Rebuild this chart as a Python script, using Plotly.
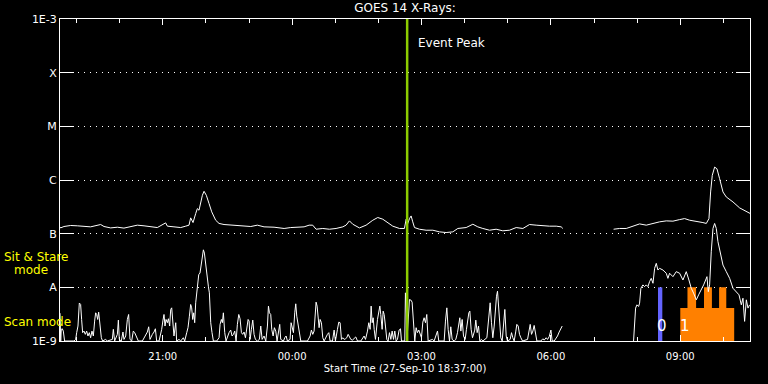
import math
import pandas as pd
import plotly.graph_objects as go

START = pd.Timestamp("2010-09-27 18:37:00")
END = START + pd.Timedelta(hours=16)

# ---- Data (minutes after 18:37, flux) ----
# Short channel (0.5-4 A), flux in units of 1e-9 W/m^2
short_seg1 = [
    (0, 3.3), (1, 1.0), (1.8, 1.65), (3.2, 1.69), (4.6, 1.53), (6.4, 1.0), (19.4, 1.0), (21.8, 1.07),
    (23.2, 1.43), (25, 1.9), (26.9, 5.1), (28.7, 4.8), (30.1, 2.5), (31.5, 1.43), (33.4, 1.53),
    (35.2, 1.33), (37.1, 1.53), (38.9, 1.24), (40.8, 1.43), (42.6, 1.15), (44.5, 1.53), (46.4, 1.24),
    (48.2, 2.35), (49.6, 3.35), (51, 3.12), (52.4, 2.52), (53.8, 3.45), (55.6, 2.04), (57.5, 1.15),
    (59.3, 1.0), (63.5, 1.07), (65.8, 1.0), (72.8, 1.07), (74.2, 1.65), (76, 1.0), (79.8, 1.33),
    (81.2, 2.45), (82.5, 1.07), (85.3, 1.0), (87.6, 1.47), (89, 1.07), (91.4, 1.24), (93.7, 2.52),
    (95.5, 3.12), (97.4, 1.07), (99.7, 1.0), (102, 1.53), (103.9, 1.43), (106.7, 1.15), (109, 1.0),
    (114.6, 1.0), (121.5, 1.47), (123.4, 1.84), (125.2, 1.07), (128.5, 1.33), (130.8, 1.47),
    (132.7, 1.69), (134.5, 1.0), (137.8, 1.0), (141.5, 1.65), (143.3, 2.45), (144.7, 3.12),
    (146.1, 1.9), (147.5, 2.52), (149.4, 2.19), (150.8, 2.6), (152.6, 1.9), (154, 3.87), (155.4, 4.15),
    (157.2, 1.65), (158.6, 1.24), (161, 2.19), (162.3, 1.0), (165.6, 1.07), (167.9, 1.0), (171.6, 1.15),
    (173.5, 1.0), (176.3, 1.43), (178.1, 1.77), (180, 2.9), (181.8, 4.79), (183.2, 4.15), (184.6, 2.52),
    (186, 3.35), (187.4, 2.19), (188.8, 5.15), (190.2, 7.9), (191.6, 10.5), (193, 17.2), (194.8, 18.5),
    (196.7, 28.4), (198.1, 40.5), (199.5, 50), (200.9, 43.5), (202.3, 28.4), (203.6, 21.3), (205, 16.1),
    (206.4, 10.5), (207.8, 7.9), (209.7, 2.19), (211.5, 1.43), (213.4, 1.0), (218, 1.0), (221.3, 1.15),
    (222.7, 2.04), (224.5, 2.52), (225.9, 2.19), (227.3, 3.35), (229.2, 1.43), (231, 1.0),
    (235.2, 1.43), (237.5, 1.6), (239.4, 1.24), (241.3, 1.33), (243.1, 1.53), (245, 1.0), (246.8, 2.04),
    (248.7, 3.12), (250.5, 2.6), (252.4, 1.43), (254.2, 1.33), (256.1, 1.47), (258, 1.15), (259.8, 1.65),
    (261.7, 2.52), (263.1, 2.35), (264.5, 1.07), (266.3, 1.65), (268.2, 2.45), (270, 1.33), (271.9, 1.07),
    (274.7, 1.0), (277.4, 1.07), (279.3, 1.9), (281.2, 1.07), (283.9, 1.24), (286.3, 1.0), (288.6, 1.9),
    (290, 4.47), (291.4, 3.35), (293.2, 3.12), (294.6, 1.65), (296.5, 1.24), (298.3, 1.77), (300.2, 1.53),
    (302, 1.0), (303.9, 1.43), (305.7, 2.04), (307.1, 1.07), (310.9, 1.0), (312.7, 1.15), (314.6, 1.24),
    (316.4, 1.0), (320.1, 1.07), (321.5, 2.19), (323.4, 1.77), (324.8, 1.43), (326.6, 3.35), (328, 4.93),
    (329.4, 2.9), (331.3, 1.9), (333.1, 1.24), (335, 1.0), (344.3, 1.0), (348, 1.24), (349.8, 1.6),
    (351.7, 1.33), (353.5, 1.53), (354.9, 2.71), (356.3, 5.3), (357.7, 4.47), (359.1, 2.9), (360.5, 1.77),
    (361.9, 2.52), (363.7, 2.19), (365.6, 1.15), (367.5, 1.0), (372.1, 1.33), (374, 1.43), (375.8, 1.0),
    (379.1, 1.0), (381.4, 1.6), (383.2, 1.0), (386, 1.65), (387.9, 2.25), (389.7, 2.19), (391.6, 1.07),
    (393.4, 1.15), (395.3, 1.07), (397.2, 1.1), (399, 1.15), (400.9, 1.33), (402.7, 1.15), (404.6, 1.07),
    (406.9, 1.04), (409.2, 1.1), (411.5, 1.19), (413.9, 1.0), (418.5, 1.0), (423.1, 1.24), (425, 1.07),
    (427.8, 1.53), (429.6, 2.19), (431.5, 1.65), (432.9, 4.47), (434.3, 2.19), (435.7, 2.71), (437.1, 1.65),
    (438.9, 1.07), (441.7, 2.52), (443.1, 3.45), (445, 4.47), (446.3, 3.12), (448.2, 1.65), (449.6, 3.6),
    (451, 3.12), (452.8, 1.9), (454.7, 1.07), (456.5, 1.0), (458.4, 1.43), (460.3, 1.07), (462.1, 1.53),
    (464, 1.07), (465.8, 1.53), (467.7, 1.0), (469.5, 1.07), (471.8, 1.6), (473.7, 1.69), (475.1, 1.0),
    (479.7, 1.0), (480.6, 7.9), (483.4, 1.43), (486.2, 5.93), (488.1, 5.8), (489.9, 5.3), (491.8, 1.65),
    (493.6, 1.0), (495.5, 1.77), (497.3, 1.43), (499.2, 1.6), (501.1, 1.33), (502.9, 1.15), (504.8, 2.25),
    (506.6, 2.71), (508.5, 2.19), (510.3, 3.12), (512.2, 1.0), (518.2, 1.07), (520.5, 1.0), (522.9, 1.24),
    (525.2, 1.53), (527, 1.0), (534.5, 1.0), (536.3, 2.35), (538.2, 4.15), (540, 1.65), (541.9, 1.0),
    (543.7, 1.84), (545.6, 1.07), (548.4, 1.0), (550.7, 1.07), (553, 1.43), (554.9, 2.19), (556.3, 2.71),
    (557.7, 1.53), (559.5, 2.52), (561.4, 1.24), (563.7, 1.07), (565.5, 1.65), (567.4, 2.52), (568.8, 3.35),
    (570.2, 3.6), (572, 1.65), (573.9, 1.15), (575.8, 1.33), (577.1, 1.6), (578.5, 2.45), (580.4, 1.43),
    (582.3, 1.9), (584.1, 1.0), (586.4, 1.07), (588.3, 1.0), (593.9, 1.15), (595.7, 2.35), (597.1, 3.6),
    (598.5, 5.15), (600.3, 2.19), (602.2, 1.15), (604.1, 1.9), (605.9, 4.79), (607.3, 6.84), (608.7, 8.47),
    (610.1, 5.15), (611.5, 2.71), (613.3, 1.15), (615.2, 1.0), (617.1, 2.19), (618.9, 3.87), (620.8, 1.24),
    (622.6, 1.0), (626.3, 1.07), (628.2, 1.43), (630, 1.15), (631.9, 1.0), (634.2, 1.53), (635.6, 2.04),
    (637.5, 1.9), (639.3, 1.33), (641.2, 1.15), (643.5, 1.0), (650.5, 1.07), (652.3, 1.53), (654.2, 2.04),
    (656, 1.33), (657.9, 1.53), (659.7, 1.95), (661.6, 1.33), (663.5, 1.0), (669, 1.0), (671.8, 1.1),
    (673.7, 1.04), (676.4, 1.15), (678.3, 1.07), (680.6, 1.2), (683, 1.6), (684.8, 1.0), (687.6, 1.0),
    (689.9, 1.1), (692.2, 1.24), (694.5, 1.47), (696.9, 1.77), (698.7, 1.9),
]
short_seg2 = [
    (798, 1.0), (799.4, 2.01), (800.8, 4.1), (802.7, 4.72), (805, 4.4), (806.4, 5.07), (808.2, 9.6),
    (811, 11.1), (813.3, 10.3), (815.7, 11.1), (818, 10.3), (820.3, 12.8), (822.6, 14.7), (825, 11.9),
    (827.3, 22.6), (829.6, 28), (831.9, 21), (834.2, 22.6), (838.9, 21), (843.5, 18.3), (845.8, 14.7),
    (848.1, 18.3), (852.8, 15.8), (857.4, 19.6), (862.1, 18.3), (866.7, 13.7), (871.3, 19.6), (875, 13.7),
    (878.3, 9.6), (881.5, 7.8), (885.3, 5.85), (888.5, 7.25), (892.2, 8.95), (895.5, 11.1), (898.3, 13.7),
    (900.1, 15.8), (902, 8.3), (903.8, 11.1), (906.1, 46), (908.5, 125), (910.8, 155), (913.1, 125),
    (915.4, 71), (918.7, 43), (922.4, 26), (927, 19.6), (931.7, 14.7), (936.3, 9.6), (941, 8.3),
    (944.7, 7.25), (947.9, 4.72), (950.2, 6.27), (952.5, 2.32), (954.9, 5.85), (957.2, 4.1), (959.5, 4.72),
]

# Long channel (1-8 A), flux in units of 1e-7 W/m^2
long_seg1 = [
    (0, 1.34), (0.9, 1.28), (5.5, 1.36), (14.8, 1.42), (24.1, 1.40), (33.4, 1.38), (42.6, 1.34),
    (56.6, 1.48), (61.2, 1.36), (70.5, 1.28), (79.8, 1.32), (89, 1.27), (98.3, 1.34), (107.6, 1.44),
    (116.9, 1.40), (126.2, 1.36), (135.4, 1.30), (147, 1.59), (149.4, 1.38), (158.6, 1.34), (167.9, 1.30),
    (174.9, 1.38), (179.5, 1.44), (181.8, 1.97), (185.1, 1.61), (188.8, 2.37), (191.1, 2.93), (193.4, 2.73),
    (195.8, 3.9), (198.1, 5.19), (200.4, 6.16), (203.6, 5.19), (207.4, 3.63), (211.1, 2.55), (216.6, 1.78),
    (221.3, 1.55), (228.2, 1.48), (237.5, 1.44), (251.4, 1.38), (265.4, 1.36), (274.6, 1.44), (283.9, 1.34),
    (297.8, 1.32), (311.8, 1.25), (321, 1.30), (330.3, 1.32), (339.6, 1.34), (346.6, 1.44), (351.6, 1.44),
    (356.3, 1.21), (365.6, 1.25), (374.8, 1.21), (384.1, 1.25), (393.4, 1.34), (398, 1.44), (402.7, 1.73),
    (407.3, 1.50), (416.6, 1.28), (425.9, 1.44), (435.2, 1.78), (442.1, 2.0), (449.1, 1.86), (456, 1.59),
    (463, 1.38), (472.3, 1.25), (479.2, 1.25), (481.6, 1.86), (483.9, 1.55), (486.2, 1.91), (488.5, 2.14),
    (490.8, 1.66), (493.2, 1.30), (500.1, 1.21), (509.4, 1.16), (518.7, 1.16), (528, 1.08), (537.2, 1.05),
    (546.5, 1.08), (553.5, 1.25), (565.1, 1.30), (574.4, 1.50), (581.3, 1.34), (588.3, 1.25), (597.6, 1.16),
    (606.8, 1.21), (616.1, 1.13), (625.4, 1.16), (634.7, 1.30), (644, 1.25), (653.2, 1.48), (662.5, 1.44),
    (671.8, 1.40), (681.1, 1.38), (690.4, 1.38), (697.3, 1.34), (699.6, 1.25),
]
long_seg2 = [
    (770.2, 1.21), (778.5, 1.25), (787.8, 1.25), (797.1, 1.40), (806.4, 1.52), (815.7, 1.44), (825, 1.55),
    (834.2, 1.66), (843.5, 1.73), (852.8, 1.71), (862.1, 1.83), (869, 1.91), (876, 1.78), (885.3, 1.71),
    (894.5, 1.61), (899.2, 1.55), (902.9, 1.91), (905.2, 5.99), (907.5, 12.2), (910.8, 17.4), (914, 16.2),
    (917.7, 10.6), (922.4, 5.99), (927, 4.83), (936.3, 3.9), (945.6, 3.02), (954.9, 2.55), (960.4, 2.37),
]

EVENT_PEAK = "2010-09-28 02:40:00"

# Instrument mode indicators: (start, end, level)
mode0_bars = [("2010-09-28 08:29", "2010-09-28 08:35", 1e-8)]
mode1_bars = [
    ("2010-09-28 09:00", "2010-09-28 09:10", 4.1e-9),
    ("2010-09-28 09:10", "2010-09-28 09:22", 1e-8),
    ("2010-09-28 09:22", "2010-09-28 09:33", 4.1e-9),
    ("2010-09-28 09:33", "2010-09-28 09:44", 1e-8),
    ("2010-09-28 09:44", "2010-09-28 09:54", 4.1e-9),
    ("2010-09-28 09:54", "2010-09-28 10:04", 1e-8),
    ("2010-09-28 10:04", "2010-09-28 10:15", 4.1e-9),
]
FLOOR = 1e-9

y_tickvals = [1e-9, 1e-8, 1e-7, 1e-6, 1e-5, 1e-4, 1e-3]
y_ticktext = ["1E-9", "A", "B", "C", "M", "X", "1E-3"]
x_tickvals = ["2010-09-27 21:00", "2010-09-28 00:00", "2010-09-28 03:00",
              "2010-09-28 06:00", "2010-09-28 09:00"]
x_ticktext = ["21:00", "00:00", "03:00", "06:00", "09:00"]


def join_segments(segs, scale):
    xs, ys = [], []
    for i, seg in enumerate(segs):
        if i > 0:
            xs.append(None)
            ys.append(None)
        for t, f in seg:
            xs.append(START + pd.Timedelta(minutes=t))
            ys.append(f * scale)
    return xs, ys


def step_polygon(spec):
    xs = [pd.Timestamp(spec[0][0])]
    ys = [FLOOR]
    for s, e, lvl in spec:
        xs += [pd.Timestamp(s), pd.Timestamp(e)]
        ys += [lvl, lvl]
    xs.append(pd.Timestamp(spec[-1][1]))
    ys.append(FLOOR)
    return xs, ys


fig = go.Figure()

bx, by = step_polygon(mode0_bars)
fig.add_trace(go.Scatter(x=bx, y=by, mode="lines", fill="toself", fillcolor="#6464ff",
                         line=dict(width=0, color="#6464ff"), hoverinfo="skip"))
ox, oy = step_polygon(mode1_bars)
fig.add_trace(go.Scatter(x=ox, y=oy, mode="lines", fill="toself", fillcolor="#ff8000",
                         line=dict(width=0, color="#ff8000"), hoverinfo="skip"))

lx, ly = join_segments([long_seg1, long_seg2], 1e-7)
sx, sy = join_segments([short_seg1, short_seg2], 1e-9)
fig.add_trace(go.Scatter(x=lx, y=ly, mode="lines", line=dict(color="white", width=1)))
fig.add_trace(go.Scatter(x=sx, y=sy, mode="lines", line=dict(color="white", width=1)))

fig.add_trace(go.Scatter(x=[EVENT_PEAK, EVENT_PEAK], y=[1e-9, 1e-3], mode="lines",
                         line=dict(color="#8ccc00", width=2.5)))

fig.update_layout(
    width=768, height=384,
    margin=dict(l=60, r=18, t=19, b=41),
    paper_bgcolor="black", plot_bgcolor="black",
    showlegend=False,
    font=dict(family="DejaVu Sans", color="white", size=10),
    title=dict(text="GOES 14 X-Rays:", x=405 / 768, xanchor="center",
               y=1 - 8 / 384, yanchor="middle", font=dict(size=12, color="white")),
)

fig.update_xaxes(
    type="date", range=[START, END],
    tickmode="array", tickvals=x_tickvals, ticktext=x_ticktext,
    ticks="inside", ticklen=6, tickcolor="white", tickwidth=1,
    showline=True, linecolor="white", linewidth=1, mirror="ticks",
    showgrid=False, zeroline=False, ticklabelstandoff=6,
    tickfont=dict(size=10, color="white"),
    minor=dict(tickmode="linear", tick0="2010-09-27 19:00", dtick=3600000,
               ticks="inside", ticklen=4, tickcolor="white", showgrid=False),
    title=dict(text="Start Time (27-Sep-10 18:37:00)", font=dict(size=10, color="white"), standoff=3),
)
fig.update_yaxes(
    type="log", range=[-9, -3],
    tickmode="array", tickvals=y_tickvals, ticktext=y_ticktext,
    ticks="inside", ticklen=14, tickcolor="white", tickwidth=1,
    showline=True, linecolor="white", linewidth=1, mirror="ticks",
    showgrid=True, gridcolor="white", gridwidth=1, griddash="1px,5px",
    zeroline=False, tickfont=dict(size=11, color="white"),
)

fig.add_annotation(x=EVENT_PEAK, xref="x", y=(343 - 43) / 324, yref="paper",
                   text="Event Peak", showarrow=False, xanchor="left", yanchor="middle", xshift=9,
                   font=dict(size=12, color="white"))
label_y = math.log10(1.9e-9)
fig.add_annotation(x=pd.Timestamp(mode0_bars[0][0]), xref="x", y=label_y, yref="y", text="0",
                   showarrow=False, xanchor="center", yanchor="middle", xshift=4,
                   font=dict(size=15, color="white"))
fig.add_annotation(x=pd.Timestamp(mode1_bars[0][0]), xref="x", y=label_y, yref="y", text="1",
                   showarrow=False, xanchor="center", yanchor="middle", xshift=5,
                   font=dict(size=15, color="white"))

yel = dict(size=12, color="#ffff00")
fig.add_annotation(x=(2 - 60) / 690, xref="paper", y=(343 - 258) / 324, yref="paper",
                   text="Sit & Stare", showarrow=False, xanchor="left", yanchor="middle", font=yel)
fig.add_annotation(x=(12 - 60) / 690, xref="paper", y=(343 - 272) / 324, yref="paper",
                   text="mode", showarrow=False, xanchor="left", yanchor="middle", font=yel)
fig.add_annotation(x=(2 - 60) / 690, xref="paper", y=(343 - 324) / 324, yref="paper",
                   text="Scan mode", showarrow=False, xanchor="left", yanchor="middle", font=yel)

fig.write_html("out.html")
